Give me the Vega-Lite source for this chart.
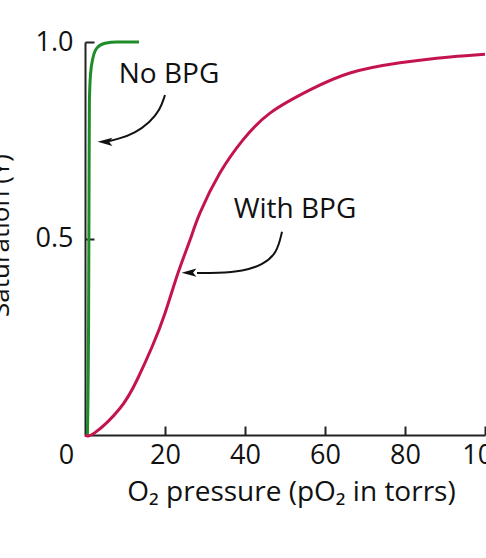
{
  "$schema": "https://vega.github.io/schema/vega-lite/v6.json",
  "width": 400,
  "height": 393,
  "autosize": {"type": "none"},
  "padding": {"left": 85, "top": 42, "right": 1, "bottom": 123},
  "background": "white",
  "config": {
    "view": {"stroke": null},
    "font": "Open Sans",
    "axis": {"domainColor": "#222", "domainWidth": 2, "tickColor": "#222", "tickWidth": 2, "labelColor": "#111", "titleColor": "#111", "labelFont": "Open Sans", "titleFont": "Open Sans", "titleFontWeight": "normal", "grid": false, "labelFlush": false, "labelOverlap": false}
  },
  "datasets": {
    "curves": [
      {"series": "No BPG", "o": 0, "p": 0.6, "s": 0},
      {"series": "No BPG", "o": 1, "p": 0.9, "s": 0.3},
      {"series": "No BPG", "o": 2, "p": 1.0, "s": 0.6},
      {"series": "No BPG", "o": 3, "p": 1.1, "s": 0.85},
      {"series": "No BPG", "o": 4, "p": 1.4, "s": 0.92},
      {"series": "No BPG", "o": 5, "p": 2, "s": 0.96},
      {"series": "No BPG", "o": 6, "p": 3, "s": 0.985},
      {"series": "No BPG", "o": 7, "p": 5, "s": 0.997},
      {"series": "No BPG", "o": 8, "p": 8, "s": 1.0},
      {"series": "No BPG", "o": 9, "p": 13.5, "s": 1.0}
    ],
    "curves2": [
      {"series": "With BPG", "o": 0, "p": 0, "s": 0},
      {"series": "With BPG", "o": 1, "p": 2.5, "s": 0.006},
      {"series": "With BPG", "o": 2, "p": 8.75, "s": 0.068},
      {"series": "With BPG", "o": 3, "p": 13, "s": 0.14},
      {"series": "With BPG", "o": 4, "p": 16.75, "s": 0.224},
      {"series": "With BPG", "o": 5, "p": 20, "s": 0.31},
      {"series": "With BPG", "o": 6, "p": 23.25, "s": 0.412},
      {"series": "With BPG", "o": 7, "p": 26.25, "s": 0.496},
      {"series": "With BPG", "o": 8, "p": 28.75, "s": 0.565},
      {"series": "With BPG", "o": 9, "p": 33.75, "s": 0.667},
      {"series": "With BPG", "o": 10, "p": 39.5, "s": 0.751},
      {"series": "With BPG", "o": 11, "p": 46.25, "s": 0.819},
      {"series": "With BPG", "o": 12, "p": 56.25, "s": 0.878},
      {"series": "With BPG", "o": 13, "p": 66.25, "s": 0.921},
      {"series": "With BPG", "o": 14, "p": 78.75, "s": 0.947},
      {"series": "With BPG", "o": 15, "p": 91.25, "s": 0.962},
      {"series": "With BPG", "o": 16, "p": 100, "s": 0.969}
    ],
    "arrows": [
      {"arrow": "a1", "o": 0, "p": 20, "s": 0.865},
      {"arrow": "a1", "o": 1, "p": 18.75, "s": 0.827},
      {"arrow": "a1", "o": 2, "p": 16.25, "s": 0.796},
      {"arrow": "a1", "o": 3, "p": 12.5, "s": 0.768},
      {"arrow": "a1", "o": 4, "p": 8.25, "s": 0.753},
      {"arrow": "a1", "o": 5, "p": 6, "s": 0.748},
      {"arrow": "a2", "o": 0, "p": 49.25, "s": 0.517},
      {"arrow": "a2", "o": 1, "p": 48, "s": 0.463},
      {"arrow": "a2", "o": 2, "p": 44.5, "s": 0.433},
      {"arrow": "a2", "o": 3, "p": 39.5, "s": 0.417},
      {"arrow": "a2", "o": 4, "p": 33, "s": 0.412},
      {"arrow": "a2", "o": 5, "p": 28, "s": 0.412}
    ],
    "heads": [
      {"arrow": "a1", "p": 5.0, "s": 0.746},
      {"arrow": "a2", "p": 26.0, "s": 0.413}
    ],
    "labels": [
      {"text": "No BPG", "p": 21, "s": 0.916},
      {"text": "With BPG", "p": 52.5, "s": 0.573}
    ]
  },
  "layer": [
    {
      "data": {"name": "curves"},
      "mark": {"type": "line", "strokeWidth": 3, "interpolate": "monotone", "color": "#1e8c28"},
      "encoding": {
        "x": {"field": "p", "type": "quantitative", "scale": {"domain": [0, 100], "nice": false},
          "axis": {"values": [0, 20, 40, 60, 80, 100], "title": "O₂ pressure (pO₂ in torrs)", "labelFontSize": 27, "titleFontSize": 28, "tickSize": -9, "labelPadding": 16, "titlePadding": 10, "titleX": 206,
            "tickOpacity": {"condition": {"test": "datum.value == 0", "value": 0}, "value": 1},
            "labelOffset": {"condition": {"test": "datum.value == 0", "value": -19}, "value": 0}}},
        "y": {"field": "s", "type": "quantitative", "scale": {"domain": [0, 1], "nice": false},
          "axis": {"values": [0.5, 1.0], "format": ".1f", "title": "Saturation (Y)", "labelFontSize": 27, "titleFontSize": 26, "tickSize": -9, "labelPadding": 21, "titleX": -72, "titleY": 193}},
        "order": {"field": "o", "type": "quantitative"}
      }
    },
    {
      "data": {"name": "curves2"},
      "mark": {"type": "line", "strokeWidth": 3, "interpolate": "natural", "color": "#c41450"},
      "encoding": {
        "x": {"field": "p", "type": "quantitative"},
        "y": {"field": "s", "type": "quantitative"},
        "order": {"field": "o", "type": "quantitative"}
      }
    },
    {
      "data": {"name": "arrows"},
      "mark": {"type": "line", "strokeWidth": 2, "color": "#111", "interpolate": "basis"},
      "encoding": {
        "x": {"field": "p", "type": "quantitative"},
        "y": {"field": "s", "type": "quantitative"},
        "detail": {"field": "arrow"},
        "order": {"field": "o", "type": "quantitative"}
      }
    },
    {
      "data": {"name": "heads"},
      "mark": {"type": "point", "filled": true, "color": "#111", "opacity": 1, "size": 220, "shape": "M -1 0 L 1 -0.55 L 0.55 0 L 1 0.55 Z"},
      "encoding": {
        "x": {"field": "p", "type": "quantitative"},
        "y": {"field": "s", "type": "quantitative"}
      }
    },
    {
      "data": {"name": "labels"},
      "mark": {"type": "text", "fontSize": 28, "font": "Open Sans", "color": "#111", "align": "center", "baseline": "middle"},
      "encoding": {
        "x": {"field": "p", "type": "quantitative"},
        "y": {"field": "s", "type": "quantitative"},
        "text": {"field": "text"}
      }
    }
  ]
}
